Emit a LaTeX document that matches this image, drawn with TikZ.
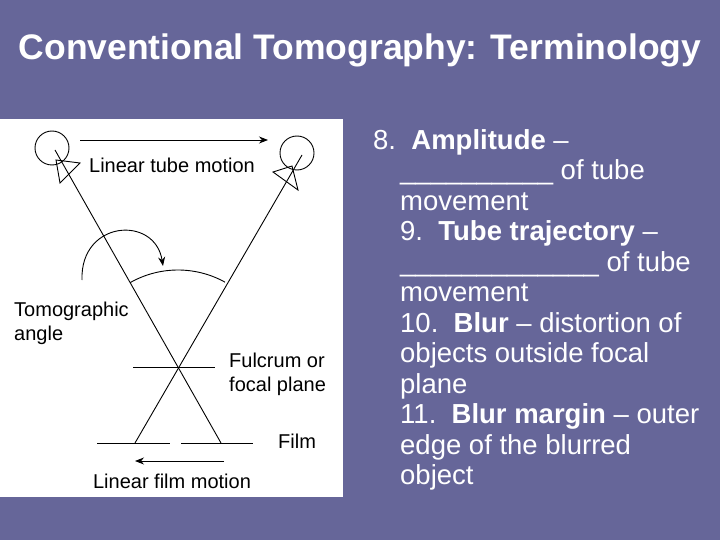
\documentclass[tikz,border=0pt]{standalone}
\usepackage{fontspec}
\setmainfont{Liberation Sans}
\usetikzlibrary{arrows.meta}
\definecolor{bg}{RGB}{102,102,153}
\begin{document}
\begin{tikzpicture}[x=1pt,y=-1pt,
  lbl/.style={font=\fontsize{20}{24}\selectfont,inner sep=0pt},
  body/.style={font=\fontsize{27.5}{30.5}\selectfont,text=white,anchor=north west,inner sep=0pt,align=left},
  ln/.style={line width=0.9pt},
  arr/.style={ln,-{Stealth[length=9pt,width=7pt]}}]
\useasboundingbox (0,0) rectangle (720,540);
\fill[bg] (0,0) rectangle (720,540);
\node[font=\bfseries\fontsize{35.5}{40}\selectfont,text=white] (title) at (360,50) {Conventional Tomography: Terminology};
\fill[white] (0,119) rectangle (343,497);
% tubes
\node[draw,circle,minimum size=34pt,ln] (t1) at (52,148) {};
\node[draw,circle,minimum size=34pt,ln] (t2) at (297,153) {};
\draw[ln] (56,160) -- (80,163) -- (60,183) -- cycle;
\draw[ln] (292,166) -- (273,172) -- (298,190) -- cycle;
\coordinate (c) at (178,367);
\draw[ln] (55,150) -- (221,443);
\draw[ln] (302,155) -- (135,443);
\draw[arr] (80,140) -- (268,140);
\node[lbl] (ltm) at (172,165) {Linear tube motion};
% angle arc
\draw[ln] (c) ++(-119.5:97) arc (-119.5:-61:97);
\draw[arr] (82,280) .. controls (80,220) and (155,215) .. (163,266);
\node[lbl,anchor=west,align=left] (ta) at (14,323) {Tomographic\\angle};
% focal plane
\draw[ln] (133,367) -- (215,367);
\node[lbl,anchor=west,align=left] (fp) at (229,374) {Fulcrum or\\focal plane};
% film
\draw[ln] (97,443) -- (170,443);
\draw[ln] (181,443) -- (253,443);
\node[lbl,anchor=west] (film) at (278,441) {Film};
\draw[arr] (224,461) -- (135,461);
\node[lbl] (lfm) at (172,481) {Linear film motion};
% text
\node[body] (n8) at (373,129) {8.\ \ \textbf{Amplitude} --};
\node[body] (rest) at (400,159.5) {\_\_\_\_\_\_\_\_\_\_ of tube\\movement\\9.\ \ \textbf{Tube trajectory} --\\\_\_\_\_\_\_\_\_\_\_\_\_\_ of tube\\movement\\10.\ \ \textbf{Blur} -- distortion of\\objects outside focal\\plane\\11.\ \ \textbf{Blur margin} -- outer\\edge of the blurred\\object};
\end{tikzpicture}
\end{document}
